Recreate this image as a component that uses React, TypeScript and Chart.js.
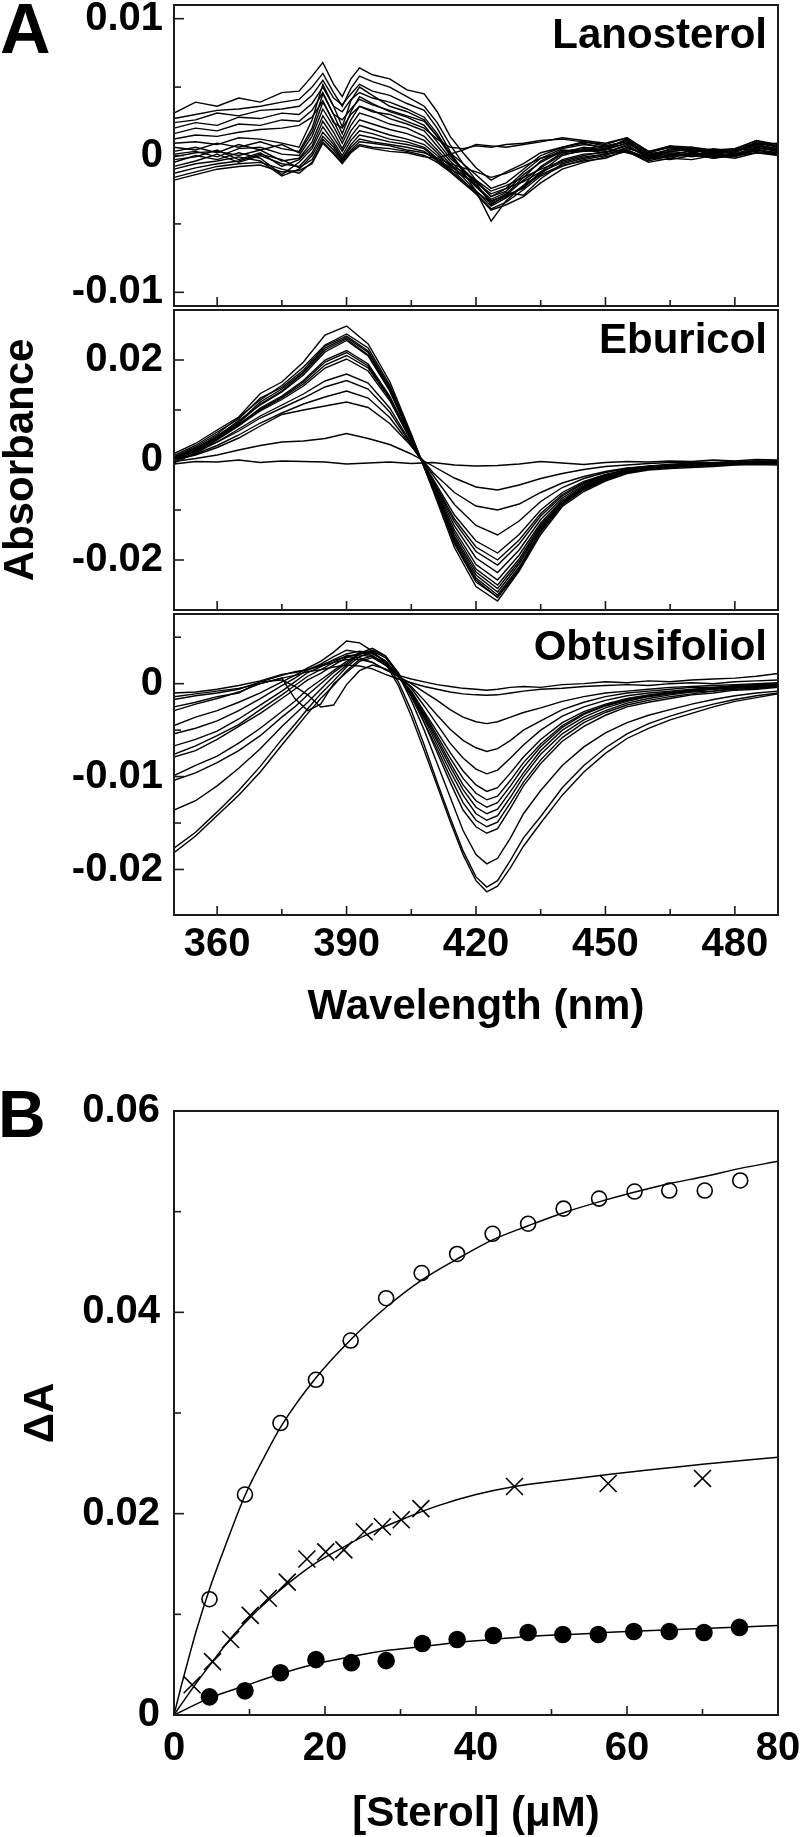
import React, { useEffect, useRef } from 'react';
import { Chart, registerables } from 'chart.js';

Chart.register(...registerables);

const FONT = '"Liberation Sans", Arial, Helvetica, sans-serif';
Chart.defaults.font.family = FONT;

// Spectra are listed in milli-absorbance units (x 0.001)
const MILLI = 0.001;

// ---------- Panel A axes ----------
const wavelengthTicks = [360, 375, 390, 405, 420, 435, 450, 465, 480];
const wavelengthTickLabels = ['360', '', '390', '', '420', '', '450', '', '480'];
const lanoTicks = [-0.01, -0.005, 0, 0.005, 0.01];
const lanoTickLabels = ['-0.01', '', '0', '', '0.01'];
const eburTicks = [-0.02, -0.01, 0, 0.01, 0.02];
const eburTickLabels = ['-0.02', '', '0', '', '0.02'];
const obtuTicks = [-0.02, -0.015, -0.01, -0.005, 0, 0.005];
const obtuTickLabels = ['-0.02', '', '-0.01', '', '0', ''];

// ---------- Lanosterol difference spectra ----------
const wlLanosterol = [350, 355, 360, 365, 370, 375, 379, 382, 384.5, 387, 389, 391, 393, 396, 400, 404, 408, 411, 414, 417, 420, 423.5, 427, 431, 435, 440, 445, 450, 455, 460, 465, 470, 475, 480, 485, 490];
const lano01 = [3.1, 3.9, 3.6, 4.2, 3.9, 4.6, 4.7, 5.8, 6.8, 5.2, 4.3, 5.6, 6.4, 5.9, 5.6, 4.8, 4.5, 3.2, 1.4, 0.2, -0.9, -1.8, -1.2, -0.6, 0.2, 0.6, 1.0, 0.8, 1.3, 0.2, 0.6, 0.5, 0.3, 0.5, 0.9, 0.6];
const lano02 = [2.7, 3.0, 3.3, 3.4, 3.6, 3.9, 4.1, 5.0, 6.0, 4.6, 3.6, 4.9, 5.8, 5.4, 5.0, 4.3, 3.6, 2.4, 0.8, -0.6, -1.8, -3.0, -2.4, -1.2, -0.2, 0.5, 0.8, 0.6, 1.1, 0.1, 0.4, 0.6, 0.2, 0.4, 0.8, 0.5];
const lano03 = [2.4, 2.6, 3.1, 2.9, 3.3, 3.4, 3.6, 4.4, 5.5, 4.2, 3.7, 4.5, 5.2, 4.7, 4.4, 3.8, 3.3, 2.0, 0.3, -1.2, -2.6, -4.8, -3.3, -2.2, -0.8, 0.2, 0.6, 0.4, 1.2, -0.1, 0.5, 0.3, 0.4, 0.2, 1.0, 0.7];
const lano04 = [2.0, 2.4, 2.2, 2.8, 2.7, 3.1, 3.0, 3.8, 5.0, 3.6, 3.2, 4.1, 4.6, 4.2, 3.9, 3.4, 2.8, 1.6, 0.1, -1.0, -2.2, -3.4, -2.8, -1.6, -0.4, 0.4, 0.3, 0.5, 0.9, 0.0, 0.3, 0.4, 0.1, 0.3, 0.7, 0.4];
const lano05 = [1.6, 2.0, 1.8, 2.3, 2.2, 2.6, 2.5, 3.3, 4.6, 3.0, 2.6, 3.4, 4.1, 3.7, 3.3, 2.9, 2.5, 1.4, 0.0, -1.1, -2.0, -3.6, -2.9, -2.4, -1.2, 0.0, 0.4, 0.2, 0.8, -0.2, 0.2, 0.0, 0.3, 0.1, 0.6, 0.3];
const lano06 = [1.2, 1.5, 1.4, 1.7, 1.9, 2.0, 2.2, 2.8, 4.0, 2.4, 2.0, 3.0, 3.6, 3.2, 3.0, 2.5, 2.0, 1.2, 0.6, 0.5, 0.7, 0.6, 0.8, 0.9, 1.1, 1.2, 1.0, 0.7, 1.0, 0.2, 0.7, 0.4, 0.2, 0.4, 1.1, 0.6];
const lano07 = [0.9, 1.0, 0.8, 1.3, 1.2, 0.9, 0.6, 2.6, 5.2, 3.6, 2.1, 4.0, 5.0, 4.4, 3.6, 3.2, 2.6, 1.4, 0.2, -0.6, -1.4, -2.4, -2.0, -1.0, 0.0, 0.6, 0.9, 0.5, 1.2, 0.3, 0.6, 0.2, 0.5, 0.3, 0.8, 0.9];
const lano08 = [0.6, 0.4, 0.9, 0.6, 1.0, 0.5, 0.3, 2.0, 4.5, 3.0, 1.6, 3.2, 4.3, 3.8, 3.2, 2.8, 2.2, 1.0, -0.2, -1.0, -1.9, -3.0, -2.6, -1.4, -0.5, 0.3, 0.5, 0.7, 1.0, -0.1, 0.3, 0.5, 0.0, 0.4, 0.5, 0.4];
const lano09 = [0.3, 0.6, 0.2, 0.8, 0.4, 0.8, 0.2, 1.7, 3.9, 2.5, 1.2, 2.6, 3.6, 3.3, 2.7, 2.3, 1.8, 0.7, -0.4, -1.3, -2.3, -3.3, -2.9, -1.8, -0.9, 0.1, 0.3, 0.4, 0.9, 0.2, 0.1, 0.3, -0.1, 0.2, 0.9, 0.7];
const lano10 = [0.1, 0.3, -0.1, 0.5, 0.6, 0.1, 0.0, 1.4, 3.4, 2.1, 0.9, 2.2, 3.1, 2.8, 2.3, 2.0, 1.4, 0.4, -0.6, -1.6, -2.6, -3.7, -3.1, -2.2, -1.3, -0.3, 0.1, 0.2, 0.7, -0.2, 0.0, 0.1, -0.2, 0.0, 0.4, 0.2];
const lano11 = [-0.1, 0.2, 0.3, 0.0, 0.4, -0.4, -0.2, 1.0, 2.9, 1.7, 0.5, 1.8, 2.6, 2.3, 1.9, 1.6, 1.1, 0.2, -0.8, -1.4, -2.2, -3.2, -2.7, -2.9, -1.7, -0.6, -0.2, 0.1, 0.5, 0.1, -0.2, 0.2, 0.0, 0.1, 0.6, 0.3];
const lano12 = [-0.3, -0.1, 0.4, -0.3, 0.2, -0.8, -0.3, 0.7, 2.5, 1.3, 0.3, 1.4, 2.2, 1.9, 1.5, 1.2, 0.8, 0.0, -0.7, -1.2, -1.8, -2.6, -2.2, -1.6, -1.0, -0.4, 0.0, 0.3, 0.4, -0.3, 0.1, -0.1, 0.1, 0.0, 0.5, 0.0];
const lano13 = [-0.5, 0.0, -0.3, 0.2, -0.2, -1.4, -0.5, 0.5, 2.1, 1.0, 0.0, 1.1, 1.8, 1.6, 1.2, 1.0, 0.6, -0.2, -0.9, -1.8, -2.8, -3.9, -3.4, -2.5, -1.5, -0.8, -0.3, 0.0, 0.6, 0.0, -0.1, 0.2, -0.2, 0.1, 0.3, 0.1];
const lano14 = [-0.8, -0.4, 0.1, -0.5, 0.0, -0.6, -0.8, 0.2, 1.7, 0.8, -0.2, 0.8, 1.5, 1.3, 1.0, 0.8, 0.5, -0.3, -1.0, -1.5, -2.0, -2.8, -2.4, -1.9, -1.2, -0.5, -0.1, 0.1, 0.3, -0.4, 0.0, 0.0, 0.2, -0.1, 0.4, 0.2];
const lano15 = [-1.0, -0.6, -0.4, -0.1, -0.4, -1.5, -1.0, 0.0, 1.4, 0.6, -0.3, 0.6, 1.2, 1.0, 0.8, 0.6, 0.3, -0.4, -1.1, -1.9, -2.6, -3.5, -3.0, -2.3, -1.4, -0.7, -0.4, -0.2, 0.4, -0.2, -0.3, 0.0, -0.1, 0.0, 0.2, 0.0];
const lano16 = [-1.3, -0.9, -0.6, -0.4, 0.1, -0.3, -0.9, -0.3, 1.2, 0.4, -0.4, 0.4, 1.0, 0.9, 0.7, 0.4, 0.2, -0.2, -0.6, -0.9, -1.2, -1.6, -1.3, -0.8, -0.2, 0.2, 0.4, 0.5, 0.2, -0.2, 0.3, 0.1, 0.2, 0.3, 0.7, 0.5];
const lano17 = [-1.6, -1.2, -0.8, -0.6, -0.5, -1.0, -1.3, -0.5, 1.0, 0.2, -0.5, 0.3, 0.8, 0.6, 0.5, 0.3, 0.0, -0.5, -1.2, -2.0, -2.8, -4.0, -3.6, -3.0, -2.0, -1.0, -0.5, -0.1, 0.3, -0.5, -0.2, -0.3, 0.0, -0.2, 0.2, 0.1];
const lano18 = [-1.8, -1.4, -1.0, -0.8, -0.7, -1.2, -1.1, -0.6, 0.9, 0.1, -0.6, 0.2, 0.7, 0.5, 0.3, 0.2, -0.1, -0.2, 0.1, 0.4, 0.8, 0.7, 0.6, 0.8, 1.0, 1.3, 1.1, 0.9, 1.3, 0.3, 0.7, 0.6, 0.4, 0.5, 1.1, 0.8];
const lanosterolSpectra = [lano01, lano02, lano03, lano04, lano05, lano06, lano07, lano08, lano09, lano10, lano11, lano12, lano13, lano14, lano15, lano16, lano17, lano18];

// ---------- Eburicol difference spectra ----------
const wlEburicol = [350, 355, 360, 365, 370, 375, 380, 385, 390, 395, 400, 405, 410, 415, 420, 425, 430, 435, 440, 445, 450, 455, 460, 465, 470, 475, 480, 485, 490];
const ebur01 = [1.3, 3.3, 6.0, 8.6, 13.3, 15.6, 19.6, 25.0, 26.8, 23.2, 15.7, 5.2, -6.0, -17.5, -25.3, -28.2, -22.2, -14.9, -9.3, -6.3, -4.2, -2.7, -2.0, -1.7, -1.5, -1.3, -1.0, -0.9, -1.0];
const ebur02 = [0.6, 2.6, 5.2, 8.5, 12.0, 14.9, 18.6, 23.0, 25.2, 22.4, 15.0, 5.0, -5.8, -16.4, -24.0, -27.5, -21.8, -14.4, -9.0, -6.0, -4.0, -2.6, -1.8, -1.5, -1.3, -1.1, -0.9, -0.7, -0.8];
const ebur03 = [0.9, 2.9, 5.6, 8.2, 12.4, 14.5, 18.0, 22.8, 24.8, 21.8, 14.6, 4.8, -5.5, -16.8, -24.4, -27.4, -22.0, -14.0, -8.8, -5.8, -3.9, -2.5, -1.6, -1.3, -1.0, -0.9, -0.6, -0.5, -0.6];
const ebur04 = [0.2, 2.2, 4.9, 7.6, 11.6, 14.2, 17.6, 22.4, 24.5, 21.5, 14.2, 4.5, -5.4, -16.0, -23.6, -27.0, -21.4, -14.1, -8.9, -5.7, -3.8, -2.3, -1.5, -1.2, -0.9, -0.8, -0.6, -0.4, -0.3];
const ebur05 = [-0.3, 2.0, 4.6, 7.4, 11.2, 13.8, 17.4, 22.0, 24.2, 21.0, 14.0, 4.4, -5.2, -15.6, -23.0, -26.4, -20.8, -13.7, -8.6, -5.6, -3.6, -2.4, -1.7, -1.3, -1.2, -0.9, -0.8, -0.6, -0.5];
const ebur06 = [0.4, 2.4, 4.7, 7.9, 11.0, 13.6, 17.0, 21.6, 23.9, 20.8, 13.8, 4.3, -5.0, -15.2, -22.4, -25.7, -20.3, -13.4, -8.4, -5.5, -3.7, -2.3, -1.4, -1.1, -0.8, -0.6, -0.5, -0.3, -0.4];
const ebur07 = [-0.1, 1.8, 4.3, 7.0, 10.4, 12.8, 15.9, 20.0, 21.9, 19.2, 12.8, 4.0, -4.9, -14.6, -21.8, -25.0, -19.8, -13.0, -8.3, -5.4, -3.6, -2.4, -1.6, -1.2, -1.0, -0.8, -0.6, -0.5, -0.5];
const ebur08 = [0.2, 2.1, 4.5, 7.2, 10.2, 12.6, 15.6, 19.6, 21.5, 18.8, 12.5, 3.9, -4.6, -14.0, -20.9, -24.0, -19.0, -12.6, -8.0, -5.2, -3.4, -2.2, -1.5, -1.0, -0.8, -0.7, -0.5, -0.3, -0.2];
const ebur09 = [-0.6, 1.5, 4.0, 6.8, 10.0, 12.4, 15.2, 19.0, 20.9, 18.4, 12.3, 3.8, -4.4, -13.2, -19.6, -22.5, -18.0, -11.9, -7.6, -5.0, -3.3, -2.1, -1.4, -1.1, -0.9, -0.6, -0.5, -0.4, -0.4];
const ebur10 = [0.0, 1.9, 4.2, 6.9, 9.8, 12.1, 14.8, 18.4, 20.2, 17.8, 11.9, 3.7, -4.2, -12.4, -18.3, -21.0, -16.8, -11.2, -7.2, -4.7, -3.1, -2.0, -1.3, -1.0, -0.7, -0.6, -0.4, -0.3, -0.3];
const ebur11 = [-0.4, 1.4, 3.6, 6.2, 8.8, 11.0, 13.2, 15.8, 17.2, 15.4, 10.4, 3.3, -4.0, -11.8, -17.4, -20.0, -16.0, -10.7, -6.9, -4.5, -3.0, -2.0, -1.4, -1.0, -0.8, -0.7, -0.5, -0.4, -0.4];
const ebur12 = [0.3, 1.8, 3.6, 5.8, 8.4, 10.4, 12.4, 14.6, 15.9, 14.2, 9.6, 3.1, -3.7, -11.0, -16.2, -18.6, -14.9, -10.0, -6.5, -4.3, -2.9, -1.9, -1.3, -0.9, -0.7, -0.6, -0.4, -0.3, -0.3];
const ebur13 = [-0.2, 1.2, 2.9, 5.0, 7.4, 9.4, 11.2, 12.6, 13.8, 12.4, 8.5, 2.8, -3.0, -8.9, -13.1, -15.0, -12.2, -8.3, -5.5, -3.7, -2.5, -1.7, -1.2, -0.9, -0.7, -0.6, -0.5, -0.4, -0.4];
const ebur14 = [0.0, 1.0, 2.5, 4.4, 6.8, 9.1, 10.0, 10.8, 11.6, 10.5, 7.3, 2.8, -2.5, -6.5, -9.2, -10.0, -8.8, -6.5, -4.6, -3.3, -2.3, -1.6, -1.3, -1.0, -0.8, -0.9, -0.6, -0.5, -0.6];
const ebur15 = [-0.3, 0.3, 1.0, 2.0, 2.9, 3.6, 3.8, 4.3, 5.3, 4.3, 3.1, 1.2, -1.2, -3.6, -5.4, -6.0, -5.0, -3.7, -2.7, -1.9, -1.3, -1.0, -0.7, -0.5, -0.4, -0.5, -0.3, -0.2, -0.3];
const ebur16 = [-0.8, -0.3, -0.4, 0.0, -0.5, -0.2, -0.3, -0.4, -0.8, -0.6, -0.4, -0.7, -0.5, -1.0, -1.2, -1.1, -0.8, -0.3, -0.6, -0.9, -0.5, -0.3, -0.4, -0.2, -0.3, 0.0, -0.2, 0.1, 0.0];
const eburicolSpectra = [ebur01, ebur02, ebur03, ebur04, ebur05, ebur06, ebur07, ebur08, ebur09, ebur10, ebur11, ebur12, ebur13, ebur14, ebur15, ebur16];

// ---------- Obtusifoliol difference spectra ----------
const wlObtusifoliol = [350, 355, 360, 365, 370, 375, 378, 381, 384, 387, 390, 393, 396, 399, 402, 405, 408, 411, 414, 417, 420, 422.5, 425, 428, 431, 435, 440, 445, 450, 455, 460, 465, 470, 475, 480, 485, 490];
const obtu01 = [-1.0, -0.9, -0.6, -0.2, 0.3, 1.0, 1.2, 1.5, 2.0, 2.5, 2.9, 2.8, 2.3, 1.5, 0.9, 0.5, 0.2, -0.1, -0.3, -0.5, -0.6, -0.7, -0.6, -0.4, -0.3, -0.4, -0.1, 0.0, 0.2, 0.1, 0.3, 0.2, 0.4, 0.5, 0.6, 0.8, 1.1];
const obtu02 = [-1.4, -1.1, -0.8, -0.5, 0.0, 0.6, 0.9, 1.3, 1.5, 1.8, 2.0, 1.9, 1.6, 1.0, 0.5, 0.1, -0.3, -0.6, -0.9, -1.1, -1.2, -1.25, -1.2, -1.0, -0.8, -0.6, -0.5, -0.3, -0.2, -0.1, -0.2, 0.0, 0.1, 0.0, 0.2, 0.3, 0.4];
const obtu03 = [-1.7, -1.3, -1.0, -0.6, 0.2, 0.9, 1.3, 1.5, 1.9, 2.3, 2.6, 2.6, 2.3, 1.5, 0.8, 0.0, -0.9, -1.8, -2.8, -3.6, -4.1, -4.3, -4.1, -3.6, -3.1, -2.6, -1.9, -1.4, -1.0, -0.8, -0.6, -0.4, -0.3, -0.2, -0.1, 0.0, 0.1];
const obtu04 = [-2.5, -2.0, -1.4, -1.0, 0.2, 0.4, -0.3, -1.2, -2.5, -2.3, -0.1, 1.4, 2.0, 1.6, 0.8, -0.3, -1.8, -3.4, -4.9, -6.1, -6.9, -7.3, -7.0, -6.1, -5.0, -4.0, -2.8, -2.0, -1.4, -1.0, -0.8, -0.6, -0.4, -0.4, -0.2, -0.1, 0.0];
const obtu05 = [-2.9, -2.2, -1.6, -0.9, 0.0, 0.6, -1.6, -2.9, -2.2, 0.0, 1.2, 2.4, 2.8, 2.0, 0.9, -0.5, -2.4, -4.4, -6.4, -8.0, -9.2, -9.7, -9.3, -8.0, -6.6, -5.0, -3.5, -2.5, -1.8, -1.3, -1.0, -0.8, -0.6, -0.4, -0.3, -0.2, -0.1];
const obtu06 = [-4.5, -3.6, -2.9, -2.0, -1.0, 0.2, 0.9, 1.7, 2.4, 3.4, 4.6, 4.4, 3.5, 2.2, 0.8, -0.8, -3.0, -5.2, -7.4, -9.4, -10.9, -11.6, -11.2, -9.6, -7.9, -6.0, -4.2, -3.0, -2.2, -1.6, -1.2, -0.9, -0.7, -0.5, -0.3, -0.2, -0.1];
const obtu07 = [-5.4, -4.8, -4.0, -2.9, -1.6, -0.2, 0.6, 1.5, 2.1, 2.9, 3.6, 3.4, 3.0, 2.0, 0.7, -0.9, -3.2, -5.6, -8.0, -10.2, -11.8, -12.5, -12.1, -10.4, -8.5, -6.5, -4.5, -3.2, -2.3, -1.7, -1.3, -1.0, -0.7, -0.6, -0.4, -0.2, -0.2];
const obtu08 = [-6.7, -6.0, -5.1, -3.8, -2.3, -0.8, 0.2, 1.2, 1.8, 2.6, 3.2, 3.5, 3.3, 2.4, 0.9, -0.9, -3.4, -5.9, -8.5, -10.9, -12.6, -13.3, -12.8, -11.0, -9.0, -6.8, -4.7, -3.3, -2.4, -1.8, -1.3, -1.0, -0.8, -0.5, -0.4, -0.3, -0.1];
const obtu09 = [-7.6, -6.7, -5.6, -4.4, -2.8, -1.2, -0.2, 0.8, 1.5, 2.3, 3.0, 3.1, 2.9, 2.2, 0.8, -1.0, -3.6, -6.2, -8.9, -11.4, -13.3, -14.0, -13.5, -11.6, -9.6, -7.2, -5.0, -3.6, -2.6, -1.9, -1.4, -1.1, -0.8, -0.6, -0.4, -0.3, -0.2];
const obtu10 = [-7.9, -7.2, -6.0, -4.6, -3.2, -1.6, -0.6, 0.4, 1.1, 2.0, 2.8, 3.3, 3.2, 2.5, 0.8, -1.2, -3.8, -6.6, -9.4, -12.0, -14.0, -14.7, -14.2, -12.2, -10.0, -7.6, -5.4, -3.9, -2.9, -2.1, -1.6, -1.2, -0.9, -0.8, -0.5, -0.4, -0.3];
const obtu11 = [-9.9, -8.8, -7.8, -6.4, -4.8, -3.0, -1.9, -0.6, 0.4, 1.4, 2.4, 3.2, 3.5, 2.8, 1.0, -1.4, -4.2, -7.0, -10.0, -12.8, -14.7, -15.4, -14.9, -12.8, -10.6, -8.2, -5.8, -4.2, -3.1, -2.3, -1.8, -1.4, -1.1, -0.8, -0.6, -0.5, -0.3];
const obtu12 = [-10.4, -9.6, -8.5, -7.2, -5.6, -3.6, -2.5, -1.2, 0.0, 1.2, 2.2, 3.3, 3.8, 3.0, 1.2, -1.2, -4.2, -7.4, -10.6, -13.6, -15.4, -16.1, -15.6, -13.4, -11.0, -8.6, -6.2, -4.6, -3.4, -2.5, -2.0, -1.6, -1.2, -1.0, -0.7, -0.6, -0.4];
const obtu13 = [-13.6, -12.6, -11.0, -9.1, -7.0, -4.6, -3.3, -2.0, -0.6, 0.8, 2.0, 3.2, 3.6, 3.0, 1.0, -1.8, -5.0, -8.6, -12.2, -15.8, -18.4, -19.4, -18.8, -16.6, -14.0, -11.5, -8.8, -6.8, -5.3, -4.2, -3.4, -2.8, -2.2, -1.7, -1.3, -1.0, -0.8];
const obtu14 = [-17.7, -16.0, -13.8, -11.5, -8.9, -6.0, -4.4, -2.7, -1.1, 0.3, 1.8, 2.9, 3.4, 2.4, 0.2, -2.9, -6.6, -10.6, -14.4, -18.0, -20.8, -21.9, -21.2, -19.0, -16.6, -14.3, -11.2, -8.8, -6.9, -5.4, -4.3, -3.5, -2.8, -2.2, -1.7, -1.3, -1.0];
const obtu15 = [-18.2, -16.4, -14.2, -12.0, -9.5, -6.6, -4.9, -3.2, -1.6, -0.2, 1.4, 2.6, 3.0, 2.2, -0.2, -3.5, -7.2, -11.0, -14.8, -18.4, -21.2, -22.4, -21.8, -19.8, -17.5, -15.0, -12.0, -9.5, -7.5, -5.9, -4.8, -3.9, -3.2, -2.5, -1.9, -1.5, -1.1];
const obtusifoliolSpectra = [obtu01, obtu02, obtu03, obtu04, obtu05, obtu06, obtu07, obtu08, obtu09, obtu10, obtu11, obtu12, obtu13, obtu14, obtu15];

// ---------- Panel B: titration ----------
const sterolTicks = [0, 10, 20, 30, 40, 50, 60, 70, 80];
const sterolTickLabels = ['0', '', '20', '', '40', '', '60', '', '80'];
const deltaATicks = [0, 0.01, 0.02, 0.03, 0.04, 0.05, 0.06];
const deltaATickLabels = ['0', '', '0.02', '', '0.04', '', '0.06'];

const openCircleX = [4.7, 9.4, 14.1, 18.8, 23.4, 28.1, 32.8, 37.5, 42.2, 46.9, 51.6, 56.3, 61.0, 65.6, 70.3, 75.0];
const openCircleY = [0.0115, 0.0219, 0.0290, 0.0333, 0.0372, 0.0414, 0.0439, 0.0458, 0.0478, 0.0488, 0.0503, 0.0513, 0.0520, 0.0521, 0.0521, 0.0531];
const crossX = [2.4, 5.1, 7.5, 10.1, 12.5, 15.0, 17.6, 20.1, 22.5, 25.2, 27.6, 30.1, 32.7, 45.1, 57.5, 70.0];
const crossY = [0.0030, 0.0053, 0.0075, 0.0099, 0.0116, 0.0132, 0.0155, 0.0162, 0.0164, 0.0182, 0.0187, 0.0194, 0.0205, 0.0227, 0.0230, 0.0235];
const filledX = [4.7, 9.4, 14.1, 18.8, 23.5, 28.1, 32.9, 37.5, 42.3, 46.9, 51.5, 56.2, 60.9, 65.6, 70.2, 74.9];
const filledY = [0.0018, 0.0024, 0.0042, 0.0055, 0.0052, 0.0054, 0.0071, 0.0075, 0.0079, 0.0082, 0.0080, 0.0080, 0.0083, 0.0083, 0.0082, 0.0087];

const openFitX = [0, 1, 2, 3, 4.7, 7, 9.4, 12, 14.2, 18.7, 23.3, 28.1, 32.8, 37.5, 42.2, 46.9, 51.6, 56.4, 60.8, 65.7, 70.3, 75, 80];
const openFitY = [0, 0.0030, 0.0058, 0.0085, 0.0125, 0.0172, 0.0218, 0.0257, 0.0287, 0.0334, 0.0372, 0.0405, 0.0432, 0.0453, 0.0472, 0.0486, 0.0499, 0.0510, 0.0519, 0.0528, 0.0535, 0.0543, 0.0550];
const crossFitX = [0, 2.4, 5.1, 7.5, 10.1, 12.5, 15, 17.6, 20.1, 22.5, 25.2, 30.1, 35, 40, 45.1, 50, 57.5, 65, 70, 80];
const crossFitY = [0, 0.0026, 0.0053, 0.0076, 0.0097, 0.0114, 0.0130, 0.0145, 0.0157, 0.0167, 0.0178, 0.0194, 0.0208, 0.0219, 0.0227, 0.0232, 0.0239, 0.0245, 0.0249, 0.0256];
const filledFitX = [0, 4.77, 9.4, 14.1, 18.8, 23.5, 28.1, 32.9, 37.5, 42.3, 46.9, 55, 60, 70, 80];
const filledFitY = [0, 0.0017, 0.0029, 0.0041, 0.0051, 0.0058, 0.0064, 0.0068, 0.0072, 0.0075, 0.0078, 0.0081, 0.0083, 0.0086, 0.0089];

// ---------- helpers ----------
type TextSpec = { text: string; x: number; y: number; size: number; align: CanvasTextAlign; rotate?: boolean };

const tickFont = { family: FONT, size: 40, weight: 'bold' as const, lineHeight: 1 };

const framePlugin = {
  id: 'frame',
  afterDatasetsDraw(chart: any, _args: any, opts: any) {
    const { ctx, chartArea: a, scales } = chart;
    const xs = scales.x;
    const ys = scales.y;
    ctx.save();
    ctx.strokeStyle = '#1c1c1c';
    ctx.lineWidth = 1.6;
    ys.ticks.forEach((t: any, i: number) => {
      const py = ys.getPixelForValue(t.value);
      const len = opts.yLabels[i] ? 10 : 7;
      ctx.beginPath();
      ctx.moveTo(a.left, py);
      ctx.lineTo(a.left + len, py);
      ctx.stroke();
    });
    xs.ticks.forEach((t: any, i: number) => {
      const px = xs.getPixelForValue(t.value);
      const len = opts.xLabels[i] ? 9 : 6;
      ctx.beginPath();
      ctx.moveTo(px, a.bottom);
      ctx.lineTo(px, a.bottom - len);
      ctx.stroke();
    });
    ctx.lineWidth = 2;
    ctx.strokeRect(a.left, a.top, a.right - a.left, a.bottom - a.top);
    ctx.fillStyle = '#000';
    (opts.texts as TextSpec[]).forEach((t) => {
      ctx.font = `bold ${t.size}px ${FONT}`;
      ctx.textAlign = t.align;
      ctx.textBaseline = 'alphabetic';
      const y = t.y - opts.top;
      if (t.rotate) {
        ctx.save();
        ctx.translate(t.x, y);
        ctx.rotate(-Math.PI / 2);
        ctx.fillText(t.text, 0, 0);
        ctx.restore();
      } else {
        ctx.fillText(t.text, t.x, y);
      }
    });
    ctx.restore();
  },
};

function fitAxis(width?: number, height?: number) {
  return (scale: any) => {
    if (width !== undefined) scale.width = width;
    if (height !== undefined) scale.height = height;
    scale.paddingLeft = 0;
    scale.paddingRight = 0;
    scale.paddingTop = 0;
    scale.paddingBottom = 0;
  };
}

type FrameSpec = {
  canvasTop: number;
  canvasHeight: number;
  areaTop: number;
  areaBottom: number;
  xMin: number;
  xMax: number;
  xTicks: number[];
  xLabels: string[];
  showXLabels: boolean;
  xPad: number;
  yMin: number;
  yMax: number;
  yTicks: number[];
  yLabels: string[];
  yPad: number;
  texts: TextSpec[];
};

function buildOptions(f: FrameSpec) {
  return {
    responsive: false,
    animation: false,
    devicePixelRatio: 1,
    events: [],
    layout: { padding: { left: 0, right: 22, top: f.areaTop - f.canvasTop, bottom: 0 } },
    plugins: {
      legend: { display: false },
      tooltip: { enabled: false },
      frame: { top: f.canvasTop, texts: f.texts, xLabels: f.xLabels, yLabels: f.yLabels },
    },
    scales: {
      x: {
        type: 'linear',
        position: 'bottom',
        min: f.xMin,
        max: f.xMax,
        grid: { display: false, drawTicks: false },
        border: { display: false },
        afterBuildTicks: (s: any) => {
          s.ticks = f.xTicks.map((v) => ({ value: v }));
        },
        ticks: {
          display: f.showXLabels,
          autoSkip: false,
          maxRotation: 0,
          minRotation: 0,
          padding: f.xPad,
          color: '#000',
          font: tickFont,
          callback: (_v: any, i: number) => f.xLabels[i],
        },
        afterFit: fitAxis(undefined, f.canvasHeight - (f.areaBottom - f.canvasTop)),
      },
      y: {
        type: 'linear',
        position: 'left',
        min: f.yMin,
        max: f.yMax,
        grid: { display: false, drawTicks: false },
        border: { display: false },
        afterBuildTicks: (s: any) => {
          s.ticks = f.yTicks.map((v) => ({ value: v }));
        },
        ticks: {
          autoSkip: false,
          padding: f.yPad,
          color: '#000',
          font: tickFont,
          callback: (_v: any, i: number) => f.yLabels[i],
        },
        afterFit: fitAxis(174, undefined),
      },
    },
  };
}

function spectraDatasets(wl: number[], spectra: number[][]) {
  return spectra.map((s) => ({
    data: wl.map((w, i) => ({ x: w, y: s[i] * MILLI })),
    showLine: true,
    borderColor: '#000',
    borderWidth: 1.4,
    pointRadius: 0,
    fill: false,
  }));
}

function spectrumConfig(wl: number[], spectra: number[][], f: FrameSpec) {
  return {
    type: 'scatter',
    data: { datasets: spectraDatasets(wl, spectra) },
    options: buildOptions(f),
    plugins: [framePlugin],
  };
}

function lanosterolConfig() {
  return spectrumConfig(wlLanosterol, lanosterolSpectra, {
    canvasTop: 0, canvasHeight: 308, areaTop: 5, areaBottom: 306,
    xMin: 350, xMax: 490, xTicks: wavelengthTicks, xLabels: wavelengthTickLabels, showXLabels: false, xPad: 10,
    yMin: -0.011, yMax: 0.011, yTicks: lanoTicks, yLabels: lanoTickLabels, yPad: 11,
    texts: [
      { text: 'A', x: 0, y: 53, size: 70, align: 'left' },
      { text: 'Lanosterol', x: 767, y: 48, size: 42, align: 'right' },
    ],
  });
}

function eburicolConfig() {
  return spectrumConfig(wlEburicol, eburicolSpectra, {
    canvasTop: 308, canvasHeight: 304, areaTop: 310, areaBottom: 610,
    xMin: 350, xMax: 490, xTicks: wavelengthTicks, xLabels: wavelengthTickLabels, showXLabels: false, xPad: 10,
    yMin: -0.03, yMax: 0.03, yTicks: eburTicks, yLabels: eburTickLabels, yPad: 11,
    texts: [
      { text: 'Eburicol', x: 767, y: 353, size: 42, align: 'right' },
      { text: 'Absorbance', x: 33, y: 460, size: 42, align: 'center', rotate: true },
    ],
  });
}

function obtusifoliolConfig() {
  return spectrumConfig(wlObtusifoliol, obtusifoliolSpectra, {
    canvasTop: 612, canvasHeight: 420, areaTop: 614, areaBottom: 915,
    xMin: 350, xMax: 490, xTicks: wavelengthTicks, xLabels: wavelengthTickLabels, showXLabels: true, xPad: 10,
    yMin: -0.0249, yMax: 0.0075, yTicks: obtuTicks, yLabels: obtuTickLabels, yPad: 11,
    texts: [
      { text: 'Obtusifoliol', x: 767, y: 660, size: 42, align: 'right' },
      { text: 'Wavelength (nm)', x: 476, y: 1019, size: 42, align: 'center' },
    ],
  });
}

function fitLine(xs: number[], ys: number[]) {
  return {
    data: xs.map((x, i) => ({ x, y: ys[i] })),
    showLine: true,
    borderColor: '#000',
    borderWidth: 1.5,
    pointRadius: 0,
    cubicInterpolationMode: 'monotone',
    fill: false,
  };
}

function markers(xs: number[], ys: number[], style: string, radius: number, fillColor: string) {
  return {
    data: xs.map((x, i) => ({ x, y: ys[i] })),
    showLine: false,
    pointStyle: style,
    pointRadius: radius,
    pointBorderColor: '#000',
    pointBackgroundColor: fillColor,
    pointBorderWidth: 1.6,
  };
}

function titrationConfig() {
  return {
    type: 'scatter',
    data: {
      datasets: [
        fitLine(openFitX, openFitY),
        fitLine(crossFitX, crossFitY),
        fitLine(filledFitX, filledFitY),
        markers(openCircleX, openCircleY, 'circle', 7.5, 'rgba(0,0,0,0)'),
        markers(crossX, crossY, 'crossRot', 12, 'rgba(0,0,0,0)'),
        markers(filledX, filledY, 'circle', 8, '#000'),
      ],
    },
    options: buildOptions({
      canvasTop: 1070, canvasHeight: 767, areaTop: 1111, areaBottom: 1715,
      xMin: 0, xMax: 80, xTicks: sterolTicks, xLabels: sterolTickLabels, showXLabels: true, xPad: 14,
      yMin: 0, yMax: 0.06, yTicks: deltaATicks, yLabels: deltaATickLabels, yPad: 14,
      texts: [
        { text: 'B', x: -2, y: 1137, size: 66, align: 'left' },
        { text: '\u0394A', x: 53, y: 1413, size: 42, align: 'center', rotate: true },
        { text: '[Sterol] (\u03BCM)', x: 476, y: 1826, size: 42, align: 'center' },
      ],
    }),
    plugins: [framePlugin],
  };
}

function ChartCanvas({ top, height, build }: { top: number; height: number; build: () => any }) {
  const ref = useRef<HTMLCanvasElement | null>(null);
  useEffect(() => {
    if (!ref.current) return;
    const chart = new Chart(ref.current, build());
    return () => chart.destroy();
  }, []);
  return (
    <canvas
      ref={ref}
      width={800}
      height={height}
      style={{ position: 'absolute', left: 0, top, width: 800, height }}
    />
  );
}

export default function App() {
  return (
    <div style={{ position: 'absolute', left: 0, top: 0, width: 800, height: 1837, background: '#fff' }}>
      <ChartCanvas top={0} height={308} build={lanosterolConfig} />
      <ChartCanvas top={308} height={304} build={eburicolConfig} />
      <ChartCanvas top={612} height={420} build={obtusifoliolConfig} />
      <ChartCanvas top={1070} height={767} build={titrationConfig} />
    </div>
  );
}
